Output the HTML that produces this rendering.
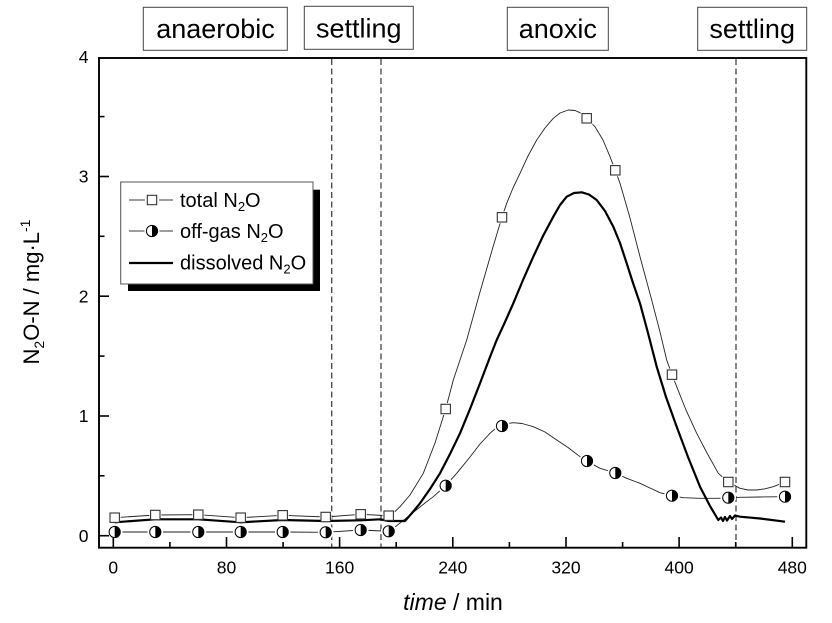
<!DOCTYPE html>
<html><head><meta charset="utf-8"><style>
html,body{margin:0;padding:0;background:#fff;}
svg{display:block;}
text{font-family:"Liberation Sans",Arial,sans-serif;fill:#000;}
</style></head><body>
<svg width="832" height="623" viewBox="0 0 832 623" xmlns="http://www.w3.org/2000/svg">
<rect width="832" height="623" fill="#fff"/>

<!-- phase label boxes -->
<g fill="#fff" stroke="#444" stroke-width="1">
<rect x="143.3" y="7.3" width="144" height="43"/>
<rect x="304.3" y="6.3" width="109" height="43"/>
<rect x="507.3" y="7.3" width="101" height="43"/>
<rect x="697.7" y="7.3" width="109" height="43"/>
</g>
<g font-size="27" text-anchor="middle">
<text x="215.5" y="38">anaerobic</text>
<text x="358.8" y="37.3">settling</text>
<text x="557.8" y="38">anoxic</text>
<text x="752.2" y="38">settling</text>
</g>

<!-- dashed phase lines -->
<g stroke="#444" stroke-width="1.3" stroke-dasharray="6,3.5">
<line x1="331.7" y1="59" x2="331.7" y2="547"/>
<line x1="381" y1="59" x2="381" y2="547"/>
<line x1="736" y1="59" x2="736" y2="547"/>
</g>

<!-- thin series lines -->
<g fill="none" stroke="#222" stroke-width="0.9" stroke-linejoin="round">
<polyline points="114.7,517.7 155.3,515 198.3,514.7 240.7,517.7 282.7,515.3 325.7,517 360.7,514.3 388.7,515.7"/>
<polyline points="388.7,515.7 395,511.5 400,506.7 410,495 423.3,473.3 435,443 445.7,409 453.3,380 460,360 466.7,340 480,292 493,247 502,217 506.7,203.3 513,188 520,173.3 528,156 536.7,140 545,128 553.3,118.3 560,113 568.3,110 575,110.5 580,112.7 586.7,118.3 595,126.7 603,140 610,156.7 615.3,170.3 620,183.3 630,218 640,256.7 651.7,300 660,332 666.7,360 672,374.7 676.7,386.7 686,410 696.7,433.3 707,453 718.3,473.3 728.3,482 740,488.3 748,490 756.7,490 765,488.8 773.3,486.7 785,482"/>
<polyline points="114.7,532 155.3,532 198.3,532 240.7,532 282.7,532 325.7,532.3 360.7,530 388.7,531.3"/>
<polyline points="388.7,531.3 395,527 401.7,521.7 415,511 425,503 433.3,496.7 445.7,485.7 456.7,473.3 470,457 480,444 490,433.3 496,428 502,426 508,423.5 513.3,422.7 522,423.5 533.3,426.7 545,432 556.7,440 568,447.5 580,456.7 586.7,461 600,468.3 615.3,473 626.7,478.3 640,483.3 650,488 660,492.7 672,495.7 683.3,497.7 700,498.3 716.7,498.3 728.3,498 740,497.3 760,497 785,496.7"/>
</g>

<!-- white halos around markers (gaps) -->
<g fill="#fff">
<rect x="108.7" y="511.7" width="12" height="12"/>
<rect x="149.3" y="509" width="12" height="12"/>
<rect x="192.3" y="508.7" width="12" height="12"/>
<rect x="234.7" y="511.7" width="12" height="12"/>
<rect x="276.7" y="509.3" width="12" height="12"/>
<rect x="319.7" y="511" width="12" height="12"/>
<rect x="354.7" y="508.3" width="12" height="12"/>
<rect x="382.7" y="509.7" width="12" height="12"/>
<rect x="439.7" y="403" width="12" height="12"/>
<rect x="496" y="211.3" width="12" height="12"/>
<rect x="580.7" y="112.3" width="12" height="12"/>
<rect x="609.3" y="164.3" width="12" height="12"/>
<rect x="666" y="368.7" width="12" height="12"/>
<rect x="722.3" y="476" width="12" height="12"/>
<rect x="779" y="476" width="12" height="12"/>
<circle cx="114.7" cy="532" r="7.8"/>
<circle cx="155.3" cy="532" r="7.8"/>
<circle cx="198.3" cy="532" r="7.8"/>
<circle cx="240.7" cy="532" r="7.8"/>
<circle cx="282.7" cy="532" r="7.8"/>
<circle cx="325.7" cy="532.3" r="7.8"/>
<circle cx="360.7" cy="530" r="7.8"/>
<circle cx="388.7" cy="531.3" r="7.8"/>
<circle cx="445.7" cy="485.7" r="7.8"/>
<circle cx="502" cy="426" r="7.8"/>
<circle cx="587" cy="461" r="7.8"/>
<circle cx="615.3" cy="473" r="7.8"/>
<circle cx="672" cy="495.7" r="7.8"/>
<circle cx="728.3" cy="497.7" r="7.8"/>
<circle cx="785" cy="496.7" r="7.8"/>
</g>

<!-- dissolved N2O thick -->
<polyline fill="none" stroke="#000" stroke-width="2.2" stroke-linejoin="round" points="114.7,522.3 155.3,519.3 198.3,519.3 240.7,522.3 282.7,520 325.7,521 360.7,520.3 380,519.3 388.7,521 405,521 412,513 420,503.3 430,489 440,473.3 450,454 460,433.3 470,409 480,383.3 490,357 496.7,340 505,322 513.3,303.3 523,280 533.3,256.7 543,236 553.3,216.7 560,205 566.7,196.7 574,193 581.7,192.3 589,194.5 596.7,200 605,211 613.3,226.7 620,243 626.7,263.3 633,283 640,303.3 648,333 656.7,366.7 666,397 676.7,426.7 688,457 700,486.7 710,506 718.3,520 721,517.5 723,521 725,517 727,520.5 730,516 732,519 735,515.5 740,516.7 760,518.5 785,521.7"/>

<!-- square markers -->
<g fill="#fff" stroke="#333" stroke-width="1.1">
<rect x="110" y="513" width="9.4" height="9.4"/>
<rect x="150.6" y="510.3" width="9.4" height="9.4"/>
<rect x="193.6" y="510" width="9.4" height="9.4"/>
<rect x="236" y="513" width="9.4" height="9.4"/>
<rect x="278" y="510.6" width="9.4" height="9.4"/>
<rect x="321" y="512.3" width="9.4" height="9.4"/>
<rect x="356" y="509.6" width="9.4" height="9.4"/>
<rect x="384" y="511" width="9.4" height="9.4"/>
<rect x="441" y="404.3" width="9.4" height="9.4"/>
<rect x="497.3" y="212.6" width="9.4" height="9.4"/>
<rect x="582" y="113.6" width="9.4" height="9.4"/>
<rect x="610.6" y="165.6" width="9.4" height="9.4"/>
<rect x="667.3" y="370" width="9.4" height="9.4"/>
<rect x="723.6" y="477.3" width="9.4" height="9.4"/>
<rect x="780.3" y="477.3" width="9.4" height="9.4"/>
</g>

<!-- half-filled circle markers -->
<defs>
<g id="hc">
<circle cx="0" cy="0" r="5.6" fill="#fff" stroke="#000" stroke-width="1"/>
<path d="M0,-5.6 A5.6,5.6 0 0 1 0,5.6 Z" fill="#000"/>
</g>
</defs>
<use href="#hc" x="114.7" y="532"/>
<use href="#hc" x="155.3" y="532"/>
<use href="#hc" x="198.3" y="532"/>
<use href="#hc" x="240.7" y="532"/>
<use href="#hc" x="282.7" y="532"/>
<use href="#hc" x="325.7" y="532.3"/>
<use href="#hc" x="360.7" y="530"/>
<use href="#hc" x="388.7" y="531.3"/>
<use href="#hc" x="445.7" y="485.7"/>
<use href="#hc" x="502" y="426"/>
<use href="#hc" x="587" y="461"/>
<use href="#hc" x="615.3" y="473"/>
<use href="#hc" x="672" y="495.7"/>
<use href="#hc" x="728.3" y="497.7"/>
<use href="#hc" x="785" y="496.7"/>

<!-- frame -->
<rect x="99" y="58" width="707.3" height="489.7" fill="none" stroke="#000" stroke-width="1.9"/>

<!-- ticks -->
<g stroke="#000" stroke-width="1.6">
<line x1="113.3" y1="547" x2="113.3" y2="537"/>
<line x1="169.9" y1="547" x2="169.9" y2="542"/>
<line x1="226.5" y1="547" x2="226.5" y2="537"/>
<line x1="283.1" y1="547" x2="283.1" y2="542"/>
<line x1="339.6" y1="547" x2="339.6" y2="537"/>
<line x1="396.2" y1="547" x2="396.2" y2="542"/>
<line x1="452.8" y1="547" x2="452.8" y2="537"/>
<line x1="509.4" y1="547" x2="509.4" y2="542"/>
<line x1="566" y1="547" x2="566" y2="537"/>
<line x1="622.6" y1="547" x2="622.6" y2="542"/>
<line x1="679.1" y1="547" x2="679.1" y2="537"/>
<line x1="735.7" y1="547" x2="735.7" y2="542"/>
<line x1="792.3" y1="547" x2="792.3" y2="537"/>
<line x1="99" y1="535.7" x2="109" y2="535.7"/>
<line x1="99" y1="475.8" x2="104.5" y2="475.8"/>
<line x1="99" y1="416" x2="109" y2="416"/>
<line x1="99" y1="356.1" x2="104.5" y2="356.1"/>
<line x1="99" y1="296.2" x2="109" y2="296.2"/>
<line x1="99" y1="236.3" x2="104.5" y2="236.3"/>
<line x1="99" y1="176.5" x2="109" y2="176.5"/>
<line x1="99" y1="116.6" x2="104.5" y2="116.6"/>
</g>

<!-- tick labels -->
<g font-size="17.5" text-anchor="middle">
<text x="113.3" y="573.5">0</text>
<text x="226.5" y="573.5">80</text>
<text x="339.6" y="573.5">160</text>
<text x="452.8" y="573.5">240</text>
<text x="566" y="573.5">320</text>
<text x="679.1" y="573.5">400</text>
<text x="792.3" y="573.5">480</text>
</g>
<g font-size="17.5" text-anchor="end">
<text x="88.5" y="541.9">0</text>
<text x="88.5" y="422.2">1</text>
<text x="88.5" y="302.4">2</text>
<text x="88.5" y="182.7">3</text>
<text x="88.5" y="62.9">4</text>
</g>

<!-- axis titles -->
<text x="453" y="610" font-size="23" text-anchor="middle"><tspan font-style="italic">time</tspan> / min</text>
<text transform="translate(39,292) rotate(-90)" font-size="22" text-anchor="middle">N<tspan font-size="14" dy="5">2</tspan><tspan dy="-5">O-N / mg·L</tspan><tspan font-size="14" dy="-9">-1</tspan></text>

<!-- legend -->
<rect x="128" y="189.7" width="192" height="101.3" fill="#000"/>
<rect x="120.7" y="182" width="192.3" height="102" fill="#fff" stroke="#555" stroke-width="1"/>
<g stroke="#222" stroke-width="0.9">
<line x1="129" y1="200" x2="145" y2="200"/>
<line x1="159" y1="200" x2="173" y2="200"/>
<line x1="129" y1="231" x2="144.5" y2="231"/>
<line x1="159.5" y1="231" x2="173" y2="231"/>
</g>
<rect x="147.3" y="195.3" width="9.4" height="9.4" fill="#fff" stroke="#333" stroke-width="1.1"/>
<use href="#hc" x="152" y="231"/>
<line x1="129" y1="263" x2="173" y2="263" stroke="#000" stroke-width="2.2"/>
<g font-size="20">
<text x="180" y="206.8">total N<tspan font-size="13" dy="4">2</tspan><tspan dy="-4">O</tspan></text>
<text x="180" y="238">off-gas N<tspan font-size="13" dy="4">2</tspan><tspan dy="-4">O</tspan></text>
<text x="180" y="269.3">dissolved N<tspan font-size="13" dy="4">2</tspan><tspan dy="-4">O</tspan></text>
</g>
</svg>
</body></html>
